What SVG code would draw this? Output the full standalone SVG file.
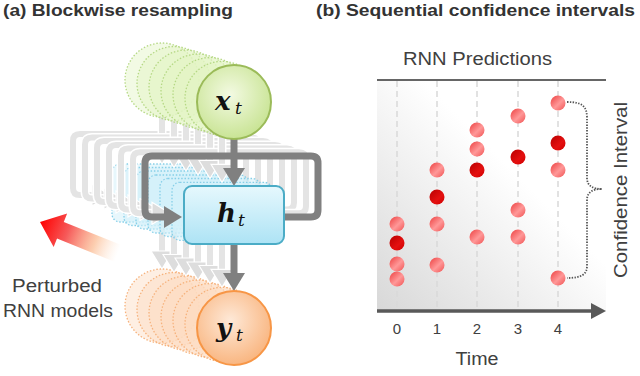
<svg xmlns="http://www.w3.org/2000/svg" xmlns:xlink="http://www.w3.org/1999/xlink" width="640" height="376" viewBox="0 0 640 376">
<defs>
<style>
.title{font-family:"Liberation Sans",Arial,sans-serif;font-weight:bold;font-size:17px;fill:#333}
.lbl{font-family:"Liberation Sans",Arial,sans-serif;font-size:18px;fill:#404040}
.tick{font-family:"Liberation Sans",Arial,sans-serif;font-size:15px;fill:#404040;text-anchor:middle}
.math{font-family:"DejaVu Serif","Liberation Serif",serif;font-style:italic;font-weight:bold;font-size:26px;fill:#111}
.sub{font-family:"DejaVu Serif","Liberation Serif",serif;font-style:italic;font-size:17px;fill:#111}
.conn{fill:none;stroke:#808080;stroke-width:7}
.gw{fill:none;stroke:#ffffff;stroke-width:9}
.gconn{fill:none;stroke:#e4e4e4;stroke-width:6}
.gdot{stroke-width:1.3;stroke-dasharray:1.5 1.8}
.grid{stroke:#d9d9d9;stroke-width:1.5;stroke-dasharray:6 4}
.p{fill:url(#pinkG)}
.d{fill:url(#darkG)}
</style>
<marker id="ah" markerUnits="userSpaceOnUse" markerWidth="18" markerHeight="22" refX="4" refY="11" orient="auto">
<path d="M0,0 L18,11 L0,22 z" fill="#808080"/>
</marker>
<marker id="gah" markerUnits="userSpaceOnUse" markerWidth="20" markerHeight="24" refX="5" refY="12" orient="auto">
<path d="M1,1 L19,12 L1,23 z" fill="#dddddd" stroke="#ffffff" stroke-width="1.2"/>
</marker>
<radialGradient id="xG" cx="0.45" cy="0.4" r="0.6">
<stop offset="0" stop-color="#f3fae2"/>
<stop offset="1" stop-color="#c9e495"/>
</radialGradient>
<radialGradient id="yG" cx="0.45" cy="0.4" r="0.6">
<stop offset="0" stop-color="#fee9d8"/>
<stop offset="1" stop-color="#f9b681"/>
</radialGradient>
<linearGradient id="hG" x1="0" y1="0" x2="0" y2="1">
<stop offset="0" stop-color="#e6f8fd"/>
<stop offset="1" stop-color="#ade3f5"/>
</linearGradient>
<linearGradient id="pinkG" x1="0" y1="0" x2="1" y2="1">
<stop offset="0" stop-color="#ec3e3e"/>
<stop offset="0.55" stop-color="#ff9898"/>
<stop offset="1" stop-color="#f05252"/>
</linearGradient>
<linearGradient id="darkG" x1="0" y1="0" x2="1" y2="1">
<stop offset="0" stop-color="#b80000"/>
<stop offset="0.6" stop-color="#e41010"/>
<stop offset="1" stop-color="#d00000"/>
</linearGradient>
<linearGradient id="bgG" x1="0" y1="1" x2="0.6" y2="0.4">
<stop offset="0" stop-color="#d8d8d8"/>
<stop offset="1" stop-color="#ffffff"/>
</linearGradient>
<linearGradient id="redG" gradientUnits="userSpaceOnUse" x1="0" y1="0" x2="84" y2="0">
<stop offset="0" stop-color="#ff0000"/>
<stop offset="0.35" stop-color="#f65a5a"/>
<stop offset="0.7" stop-color="#fbb98e" stop-opacity="0.7"/>
<stop offset="1" stop-color="#fde0c8" stop-opacity="0"/>
</linearGradient>
<g id="ghost">
<path class="gw" d="M284,217 H311 Q318,217 318,210 V163 Q318,156 311,156 H152 Q145,156 145,163 V210 Q145,217 152,217 H168"/>
<path class="gconn" d="M284,217 H311 Q318,217 318,210 V163 Q318,156 311,156 H152 Q145,156 145,163 V210 Q145,217 152,217 H168" marker-end="url(#gah)"/>
<line class="gw" x1="234" y1="139" x2="234" y2="172"/>
<line class="gconn" x1="234" y1="139" x2="234" y2="172" marker-end="url(#gah)"/>
<line class="gw" x1="234" y1="244" x2="234" y2="277"/>
<line class="gconn" x1="234" y1="244" x2="234" y2="277" marker-end="url(#gah)"/>
<rect class="gdot" x="184" y="186" width="100" height="58" rx="8" fill="#d3f0fa" fill-opacity="0.55" stroke="#86cfe8"/>
<circle class="gdot" cx="234" cy="102" r="37" fill="#e2f3c4" fill-opacity="0.45" stroke="#b5d884"/>
<circle class="gdot" cx="234" cy="328" r="37" fill="#fddcc2" fill-opacity="0.45" stroke="#f6b27c"/>
</g>
</defs>
<rect width="640" height="376" fill="#ffffff"/>

<!-- (a) -->
<text class="title" x="3" y="16" textLength="230" lengthAdjust="spacingAndGlyphs">(a) Blockwise resampling</text>

<g id="perturbed-models">
<use xlink:href="#ghost" transform="translate(-72,-22)"/>
<use xlink:href="#ghost" transform="translate(-60,-18.5)"/>
<use xlink:href="#ghost" transform="translate(-48,-15)"/>
<use xlink:href="#ghost" transform="translate(-36,-11)"/>
<use xlink:href="#ghost" transform="translate(-24,-7.5)"/>
<use xlink:href="#ghost" transform="translate(-12,-3.7)"/>
</g>

<g id="perturb-arrow">
<path d="M0,0 L22,-18 L22,-9 L84,-9 L84,9 L22,9 L22,18 z" fill="url(#redG)" transform="translate(40,222) rotate(22)"/>
</g>

<g id="connectors">
<path class="conn" d="M284,217 H311 Q318,217 318,210 V163 Q318,156 311,156 H152 Q145,156 145,163 V210 Q145,217 152,217 H168" marker-end="url(#ah)"/>
<line class="conn" x1="234" y1="139" x2="234" y2="172" marker-end="url(#ah)"/>
<line class="conn" x1="234" y1="244" x2="234" y2="277" marker-end="url(#ah)"/>
</g>

<g id="node-x">
<circle cx="234" cy="102" r="37" fill="url(#xG)" stroke="#9bbb59" stroke-width="2"/>
<text class="math" x="215" y="110">x</text>
<text class="sub" x="235" y="114">t</text>
</g>

<g id="node-h">
<rect x="184" y="186" width="100" height="58" rx="8" fill="url(#hG)" stroke="#4bacc6" stroke-width="2"/>
<text class="math" x="217" y="222">h</text>
<text class="sub" x="238" y="226">t</text>
</g>

<g id="node-y">
<circle cx="234" cy="328" r="37" fill="url(#yG)" stroke="#f79646" stroke-width="2"/>
<text class="math" x="216" y="337">y</text>
<text class="sub" x="236" y="341">t</text>
</g>

<text class="lbl" x="12" y="292" textLength="90" lengthAdjust="spacingAndGlyphs">Perturbed</text>
<text class="lbl" x="3" y="317" textLength="110" lengthAdjust="spacingAndGlyphs">RNN models</text>

<!-- (b) -->
<text class="title" x="316" y="16" textLength="319" lengthAdjust="spacingAndGlyphs">(b) Sequential confidence intervals</text>
<text class="lbl" x="403" y="65" textLength="149" lengthAdjust="spacingAndGlyphs">RNN Predictions</text>

<g id="plot">
<rect x="377" y="80" width="229" height="231" fill="url(#bgG)"/>
<line class="grid" x1="397" y1="81" x2="397" y2="310"/>
<line class="grid" x1="437" y1="81" x2="437" y2="310"/>
<line class="grid" x1="477" y1="81" x2="477" y2="310"/>
<line class="grid" x1="518" y1="81" x2="518" y2="310"/>
<line class="grid" x1="558" y1="81" x2="558" y2="310"/>
<line x1="377" y1="80" x2="606" y2="80" stroke="#333" stroke-width="1.5"/>
<line x1="377" y1="311" x2="593" y2="311" stroke="#595959" stroke-width="3.5"/>
<path d="M591,303 L606,311 L591,319 z" fill="#595959"/>
</g>

<g id="predictions">
<circle class="p" cx="397" cy="224" r="7.5"/>
<circle class="d" cx="397" cy="243" r="7.5"/>
<circle class="p" cx="397" cy="264" r="7.5"/>
<circle class="p" cx="397" cy="279" r="7.5"/>
<circle class="p" cx="437" cy="170" r="7.5"/>
<circle class="d" cx="437" cy="197" r="7.5"/>
<circle class="p" cx="437" cy="224" r="7.5"/>
<circle class="p" cx="437" cy="265" r="7.5"/>
<circle class="p" cx="477" cy="130" r="7.5"/>
<circle class="p" cx="477" cy="149" r="7.5"/>
<circle class="d" cx="477" cy="170" r="7.5"/>
<circle class="p" cx="477" cy="237" r="7.5"/>
<circle class="p" cx="518" cy="116" r="7.5"/>
<circle class="d" cx="518" cy="157" r="7.5"/>
<circle class="p" cx="518" cy="210" r="7.5"/>
<circle class="p" cx="518" cy="237" r="7.5"/>
<circle class="p" cx="558" cy="103" r="7.5"/>
<circle class="d" cx="558" cy="143" r="7.5"/>
<circle class="p" cx="558" cy="170" r="7.5"/>
<circle class="p" cx="558" cy="278" r="7.5"/>
</g>

<g id="interval-brace">
<path d="M567,102 C582,102 587,106 587,118 L587,178 C587,186 593,189 602,189 C593,189 587,192 587,200 L587,266 C587,274 582,278 567,278" fill="none" stroke="#555" stroke-width="1.8" stroke-dasharray="1.4 1.4"/>
<text class="lbl" font-size="19" transform="translate(627,190) rotate(-90)" text-anchor="middle" textLength="176" lengthAdjust="spacingAndGlyphs">Confidence Interval</text>
</g>

<g id="axis-labels">
<text class="tick" x="397" y="334">0</text>
<text class="tick" x="437" y="334">1</text>
<text class="tick" x="477" y="334">2</text>
<text class="tick" x="518" y="334">3</text>
<text class="tick" x="558" y="334">4</text>
<text class="lbl" x="477" y="365" text-anchor="middle" textLength="43" lengthAdjust="spacingAndGlyphs">Time</text>
</g>
</svg>
